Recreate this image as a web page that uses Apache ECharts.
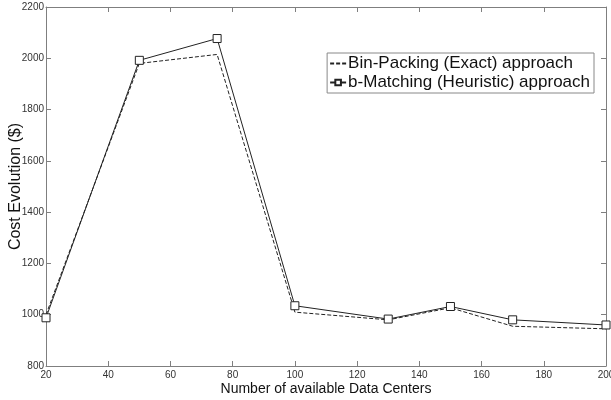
<!DOCTYPE html>
<html>
<head>
<meta charset="utf-8">
<script src="https://cdn.jsdelivr.net/npm/echarts@6/dist/echarts.min.js"></script>
<style>
  html, body { margin: 0; padding: 0; background: #fff; }
  #chart { width: 611px; height: 400px; }
</style>
</head>
<body>
<div id="chart"></div>
<script>
// data
var dataCenters = [20, 50, 75, 100, 130, 150, 170, 200];
var binPacking = [1000, 1980, 2015, 1010, 980, 1027, 955, 945];
var bMatching = [988, 1992, 2077, 1035, 983, 1032, 980, 960];

var pair = function (ys) {
    return dataCenters.map(function (x, i) { return [x, ys[i]]; });
};

var axisGrey = '#7f7f7f';
var labelFont = { fontFamily: 'Liberation Sans', fontSize: 10, color: '#333', formatter: function (v) { return String(v); } };

var myChart = echarts.init(document.getElementById('chart'));
myChart.setOption({
    animation: false,
    grid: { left: 46, right: 5, top: 7, bottom: 34, outerBoundsMode: 'none', containLabel: false },
    legend: {
        data: [
            { name: 'Bin-Packing (Exact) approach', itemStyle: { opacity: 0 } },
            { name: 'b-Matching (Heuristic) approach' }
        ],
        orient: 'vertical',
        right: 17,
        top: 53,
        padding: [2, 4, 2, 2],
        itemGap: 2,
        itemWidth: 16,
        itemHeight: 7,
        borderColor: '#888',
        borderWidth: 1,
        backgroundColor: '#fff',
        textStyle: { fontFamily: 'Liberation Sans', fontSize: 17, color: '#111', padding: [0, 0, 0, -3] }
    },
    xAxis: [
        {
            type: 'value', min: 20, max: 200, interval: 20,
            name: 'Number of available Data Centers',
            nameLocation: 'middle', nameGap: 16, nameMoveOverlap: false,
            nameTextStyle: { fontFamily: 'Liberation Sans', fontSize: 14, color: '#111' },
            axisLine: { lineStyle: { color: axisGrey } },
            axisTick: { inside: true, length: 5, lineStyle: { color: axisGrey } },
            axisLabel: Object.assign({ margin: 4 }, labelFont),
            splitLine: { show: false }
        },
        {
            type: 'value', position: 'top', min: 20, max: 200, interval: 20,
            axisLine: { show: true, lineStyle: { color: axisGrey } },
            axisTick: { inside: true, length: 5, lineStyle: { color: axisGrey } },
            axisLabel: { show: false },
            splitLine: { show: false }
        }
    ],
    yAxis: [
        {
            type: 'value', min: 800, max: 2200, interval: 200,
            name: 'Cost Evolution ($)',
            nameLocation: 'middle', nameGap: 22, nameMoveOverlap: false,
            nameTextStyle: { fontFamily: 'Liberation Sans', fontSize: 16, color: '#111' },
            axisLine: { show: true, lineStyle: { color: axisGrey } },
            axisTick: { show: true, inside: true, length: 5, lineStyle: { color: axisGrey } },
            axisLabel: Object.assign({ margin: 2 }, labelFont),
            splitLine: { show: false }
        },
        {
            type: 'value', position: 'right', min: 800, max: 2200, interval: 200,
            axisLine: { show: true, lineStyle: { color: axisGrey } },
            axisTick: { show: true, inside: true, length: 5, lineStyle: { color: axisGrey } },
            axisLabel: { show: false },
            splitLine: { show: false }
        }
    ],
    series: [
        {
            name: 'Bin-Packing (Exact) approach',
            type: 'line',
            data: pair(binPacking),
            symbol: 'none',
            itemStyle: { color: '#222' },
            lineStyle: { color: '#222', width: 1, type: [4, 2] }
        },
        {
            name: 'b-Matching (Heuristic) approach',
            type: 'line',
            data: pair(bMatching),
            symbol: 'rect',
            symbolSize: 8,
            itemStyle: { color: '#fff', borderColor: '#222', borderWidth: 1 },
            lineStyle: { color: '#222', width: 1 }
        }
    ]
});
</script>
</body>
</html>
